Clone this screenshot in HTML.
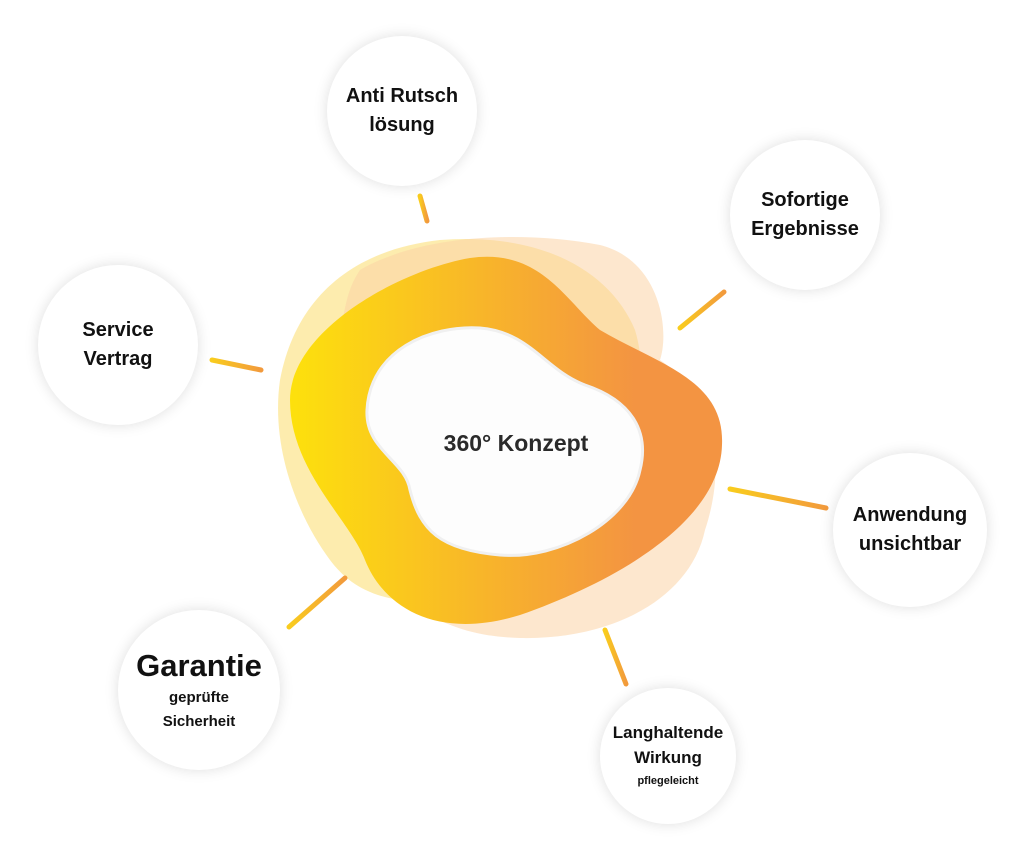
<!DOCTYPE html>
<html><head><meta charset="utf-8"><style>
body{margin:0;background:#fff;width:1024px;height:852px;overflow:hidden;position:relative;font-family:"Liberation Sans",sans-serif}
.c{position:absolute;border-radius:50%;background:#fff;box-shadow:0 0 14px rgba(0,0,0,0.13);display:flex;flex-direction:column;align-items:center;justify-content:center;text-align:center;color:#111;font-weight:bold;font-size:20px;line-height:29px}
svg{position:absolute;left:0;top:0}
</style></head><body>
<svg width="1024" height="852">
<defs>
<linearGradient id="g" x1="290" y1="0" x2="722" y2="0" gradientUnits="userSpaceOnUse">
<stop offset="0" stop-color="#fde10c"/><stop offset="0.45" stop-color="#f8b52a"/><stop offset="0.8" stop-color="#f39442"/><stop offset="1" stop-color="#f39442"/></linearGradient>
<linearGradient id="l" x1="0" y1="0" x2="1" y2="0"><stop offset="0" stop-color="#f9cc1e"/><stop offset="1" stop-color="#f29a3c"/></linearGradient>
</defs>
<path d="M330,560 C300,520 270,450 280,380 C295,300 350,250 440,240 C540,232 610,270 635,330 C650,380 640,450 600,510 C560,570 470,610 400,600 C365,595 345,580 330,560Z" fill="#fde9a0" opacity="0.85"/>
<path d="M360,270 C420,235 520,230 600,245 C660,260 670,330 660,360 C720,400 725,470 705,530 C690,600 610,640 520,638 C440,636 400,600 380,560 C340,500 330,420 340,340 C345,300 350,285 360,270Z" fill="#fbd3a6" opacity="0.55"/>
<path d="M290,400 C290,330 400,270 470,258 C540,248 565,300 600,330 C660,365 725,380 722,445 C720,520 620,580 520,615 C440,640 385,610 365,560 C350,520 290,470 290,400Z" fill="url(#g)"/>
<path d="M367,410 C370,350 430,325 480,328 C530,332 545,370 585,385 C630,400 650,430 640,470 C630,520 560,560 500,555 C440,550 420,530 410,490 C405,460 365,450 367,410Z" fill="#fdfdfd" stroke="#f0f0f0" stroke-width="3"/>
<text x="516" y="451" text-anchor="middle" font-family="Liberation Sans" font-weight="bold" font-size="23" fill="#2a2a2a">360° Konzept</text>
<g stroke="url(#l)" stroke-width="5" stroke-linecap="round">
<line x1="420" y1="196" x2="427" y2="221"/>
<line x1="680" y1="328" x2="724" y2="292"/>
<line x1="212" y1="360" x2="261" y2="370"/>
<line x1="730" y1="489" x2="826" y2="508"/>
<line x1="345" y1="578" x2="289" y2="627"/>
<line x1="605" y1="630" x2="626" y2="684"/>
</g>
</svg>
<div class="c" style="left:327px;top:36px;width:150px;height:150px">Anti Rutsch<br>lösung</div>
<div class="c" style="left:730px;top:140px;width:150px;height:150px">Sofortige<br>Ergebnisse</div>
<div class="c" style="left:38px;top:265px;width:160px;height:160px">Service<br>Vertrag</div>
<div class="c" style="left:833px;top:453px;width:154px;height:154px">Anwendung<br>unsichtbar</div>
<div class="c" style="left:118px;top:610px;width:162px;height:160px;line-height:24px"><span style="font-size:31px;line-height:40px">Garantie</span><span style="font-size:15px">geprüfte<br>Sicherheit</span></div>
<div class="c" style="left:600px;top:688px;width:136px;height:136px;font-size:17px;line-height:25px">Langhaltende<br>Wirkung<span style="font-size:11px;line-height:22px">pflegeleicht</span></div>
</body></html>
